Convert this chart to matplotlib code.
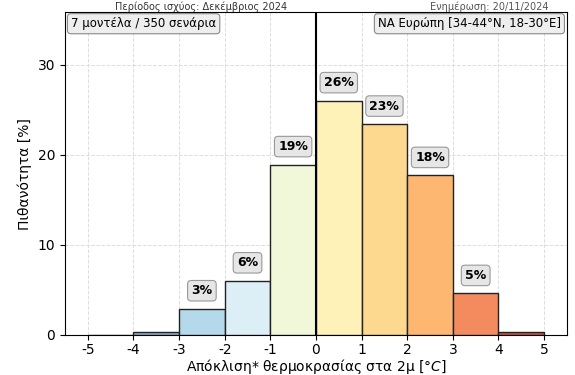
import numpy as np
import matplotlib
matplotlib.use('Agg')
import matplotlib.pyplot as plt

# δεδομένα του ιστογράμματος
bin_left = [-5, -4, -3, -2, -1, 0, 1, 2, 3, 4]
pithanotita = [0.0, 0.3, 2.9, 6.0, 18.9, 26.0, 23.4, 17.7, 4.6, 0.3]
etiketes = ['0%', '0%', '3%', '6%', '19%', '26%', '23%', '18%', '5%', '0%']
xticks = [-5, -4, -3, -2, -1, 0, 1, 2, 3, 4, 5]
xtick_labels = ['-5', '-4', '-3', '-2', '-1', '0', '1', '2', '3', '4', '5']

xromata = ['#6f95bb', '#8fb0cc', '#b3d9ea', '#dcEff6', '#f1f8da',
           '#fff2b8', '#fdd88f', '#fdb771', '#f48b5e', '#c8534a']

plt.rcParams['font.family'] = ['DejaVu Sans']

fig = plt.figure(figsize=(5.75, 3.75), dpi=100)
ax = fig.add_axes([0.113, 0.107, 0.873, 0.860])

ax.bar(bin_left, pithanotita, width=1, align='edge', color=xromata,
       edgecolor='#222222', linewidth=1, zorder=3)

for x, v, t in zip(bin_left, pithanotita, etiketes):
    if v >= 2:
        ax.text(x + 0.5, v + 2, t, ha='center', va='center', fontsize=9,
                fontweight='bold', zorder=5,
                bbox=dict(boxstyle='round,pad=0.3', fc='#e6e6e6', ec='#999999', lw=0.8))

ax.axvline(0, color='black', linewidth=1.5, zorder=4)

ax.set_xlim(-5.5, 5.5)
ax.set_ylim(0, 35.8)
ax.set_xticks(xticks)
ax.set_xticklabels(xtick_labels)
ax.set_yticks([0, 10, 20, 30])
ax.tick_params(labelsize=10)
ax.tick_params(axis='x', pad=2)
ax.grid(True, linestyle='--', color='#dddddd', linewidth=0.7, zorder=0)
ax.set_axisbelow(True)

ax.set_xlabel('Απόκλιση* θερμοκρασίας στα 2μ [°$C$]', fontsize=10)
ax.xaxis.set_label_coords(0.5, -0.07)
ax.set_ylabel('Πιθανότητα [%]', fontsize=10)

box = dict(boxstyle='round,pad=0.3', fc='#eeeeee', ec='#888888', lw=0.8)
ax.text(0.012, 0.985, '7 μοντέλα / 350 σενάρια', transform=ax.transAxes,
        ha='left', va='top', fontsize=8.5, bbox=box, zorder=6)
ax.text(0.988, 0.985, 'ΝΑ Ευρώπη [34-44°N, 18-30°E]', transform=ax.transAxes,
        ha='right', va='top', fontsize=8.5, bbox=box, zorder=6)

# τίτλοι στην κορυφή
fig.text(0.35, 0.997, 'Περίοδος ισχύος: Δεκέμβριος 2024', ha='center', va='top',
         fontsize=7, color='#333333')
fig.text(0.85, 0.997, 'Ενημέρωση: 20/11/2024', ha='center', va='top',
         fontsize=7, color='#555555')

fig.savefig('out.png', dpi=100)
